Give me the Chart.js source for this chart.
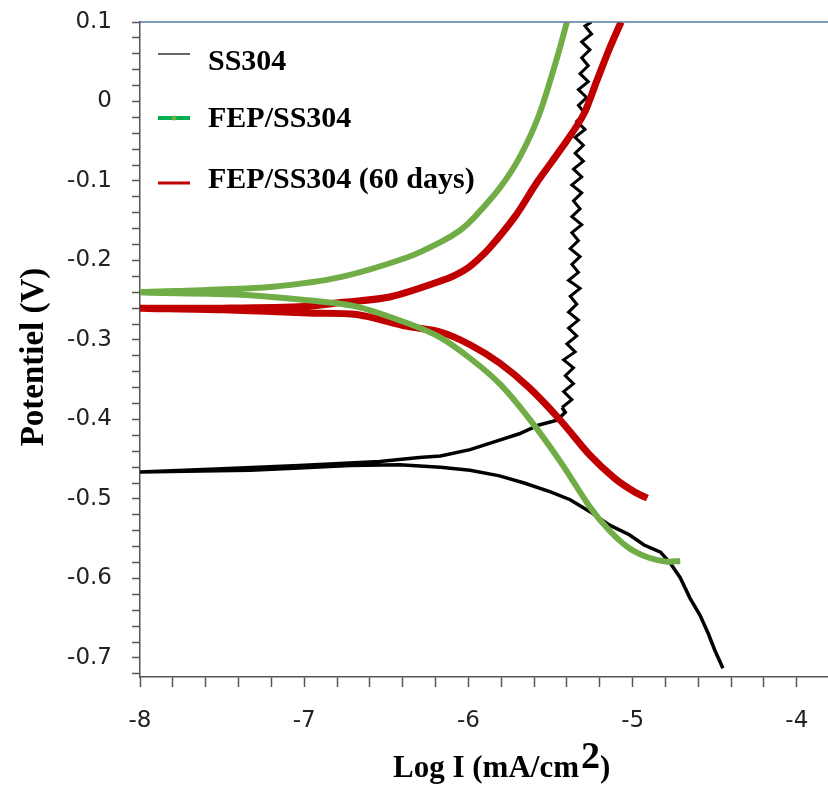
<!DOCTYPE html>
<html>
<head>
<meta charset="utf-8">
<title>Tafel curves</title>
<script src="https://cdn.jsdelivr.net/npm/chart.js@4.4.1/dist/chart.umd.min.js"></script>
<style>
  body { margin: 0; background: #fff; }
  #chart { display: block; }
</style>
</head>
<body>
<canvas id="chart" width="828" height="785"></canvas>
<script>
// SS304 : cathodic branch (from the bottom up to the left), then anodic branch
const ss304LogI = [
  -4.45, -4.50, -4.54, -4.59, -4.65, -4.71, -4.77, -4.83, -4.93, -5.02, -5.14, -5.26,
  -5.38, -5.50, -5.66, -5.81, -5.99, -6.17, -6.42, -6.72, -7.03, -7.33, -7.63, -8.00,
  -7.50, -7.03, -6.54, -6.30, -6.17, -5.99, -5.81, -5.69, -5.57, -5.46, -5.41,
  -5.43, -5.37, -5.42, -5.36, -5.41, -5.36, -5.42, -5.35, -5.40, -5.34, -5.39, -5.33,
  -5.39, -5.34, -5.38, -5.32, -5.39, -5.33, -5.37, -5.32, -5.38, -5.33, -5.37, -5.31,
  -5.37, -5.32, -5.36, -5.31, -5.37, -5.31, -5.36, -5.30, -5.35, -5.30, -5.35, -5.29,
  -5.34, -5.29, -5.33, -5.28, -5.33, -5.27, -5.32, -5.27, -5.31, -5.26, -5.31, -5.25,
  -5.29, -5.25
];
const ss304E = [
  -0.713, -0.690, -0.669, -0.646, -0.625, -0.599, -0.581, -0.567, -0.558, -0.545, -0.533, -0.516,
  -0.501, -0.491, -0.480, -0.471, -0.464, -0.460, -0.457, -0.458, -0.461, -0.464, -0.465, -0.466,
  -0.462, -0.458, -0.453, -0.448, -0.446, -0.438, -0.426, -0.418, -0.407, -0.401, -0.391,
  -0.385, -0.375, -0.365, -0.355, -0.345, -0.335, -0.325, -0.315, -0.305, -0.295, -0.285, -0.275,
  -0.265, -0.255, -0.245, -0.235, -0.225, -0.215, -0.205, -0.195, -0.185, -0.175, -0.165, -0.155,
  -0.145, -0.135, -0.125, -0.115, -0.105, -0.095, -0.085, -0.075, -0.065, -0.055, -0.045, -0.035,
  -0.025, -0.015, -0.005, 0.005, 0.015, 0.025, 0.035, 0.045, 0.055, 0.065, 0.075, 0.085,
  0.095, 0.100
];

// FEP/SS304 : cathodic branch from its right end, then anodic branch
const fepLogI = [
  -4.71, -4.79, -4.90, -5.02, -5.14, -5.26, -5.44, -5.63, -5.81, -5.99, -6.17, -6.37,
  -6.68, -6.98, -7.39, -8.00,
  -7.59, -7.19, -6.78, -6.37, -6.17, -6.05, -5.97, -5.81, -5.69, -5.57, -5.46, -5.40
];
const fepE = [
  -0.578, -0.579, -0.574, -0.562, -0.540, -0.510, -0.453, -0.399, -0.355, -0.323, -0.297, -0.279,
  -0.258, -0.250, -0.243, -0.240,
  -0.237, -0.233, -0.221, -0.196, -0.177, -0.162, -0.147, -0.109, -0.071, -0.017, 0.055, 0.100
];

// FEP/SS304 (60 days)
const fep60LogI = [
  -4.91, -4.99, -5.11, -5.26, -5.44, -5.63, -5.81, -5.99, -6.17, -6.37, -6.68, -6.98,
  -7.50, -8.00,
  -7.50, -7.00, -6.78, -6.48, -6.13, -6.03, -5.97, -5.87, -5.71, -5.58, -5.43, -5.30,
  -5.22, -5.14, -5.07
];
const fep60E = [
  -0.499, -0.491, -0.474, -0.445, -0.401, -0.360, -0.329, -0.306, -0.290, -0.283, -0.268, -0.266,
  -0.262, -0.260,
  -0.260, -0.258, -0.253, -0.246, -0.223, -0.213, -0.204, -0.184, -0.143, -0.101, -0.058, -0.017,
  0.025, 0.067, 0.100
];

const seriesNames = ['SS304', 'FEP/SS304', 'FEP/SS304 (60 days)'];
const xMin = -8, xMax = -3.81;
const yMin = -0.724, yMax = 0.1;

function toPoints(xs, ys) {
  return xs.map(function(x, i) { return {x: x, y: ys[i]}; });
}

const serif = '"Liberation Serif", "Times New Roman", serif';
const axisColor = '#555555';

// legend, axis titles and the top frame line
const decorations = {
  id: 'decorations',
  afterDraw: function(chart) {
    const ctx = chart.ctx;
    const area = chart.chartArea;
    ctx.save();

    ctx.strokeStyle = '#5b7ba4';
    ctx.lineWidth = 1.5;
    ctx.beginPath();
    ctx.moveTo(area.left, area.top);
    ctx.lineTo(area.right, area.top);
    ctx.stroke();

    // legend
    const rows = [
      {y: 54, text: 70, color: '#333333', width: 1.5},
      {y: 118, text: 127, color: '#00b050', width: 4},
      {y: 183, text: 188, color: '#c00000', width: 3}
    ];
    ctx.font = 'bold 30px ' + serif;
    ctx.fillStyle = '#000';
    ctx.textAlign = 'left';
    ctx.textBaseline = 'alphabetic';
    for (var i = 0; i < rows.length; i++) {
      var r = rows[i];
      ctx.strokeStyle = r.color;
      ctx.lineWidth = r.width;
      ctx.beginPath();
      ctx.moveTo(158, r.y);
      ctx.lineTo(190, r.y);
      ctx.stroke();
      if (i == 1) {
        ctx.fillStyle = '#70ad47';
        ctx.beginPath();
        ctx.arc(174, r.y, 2.5, 0, Math.PI * 2);
        ctx.fill();
        ctx.fillStyle = '#000';
      }
      ctx.fillText(seriesNames[i], 208, r.text);
    }

    // y axis title
    ctx.save();
    ctx.translate(43, 357);
    ctx.rotate(-Math.PI / 2);
    ctx.font = 'bold 33px ' + serif;
    ctx.textAlign = 'center';
    ctx.fillText('Potentiel (V)', 0, 0);
    ctx.restore();

    // x axis title with a large superscript
    var x = 393;
    ctx.textAlign = 'left';
    ctx.font = 'bold 31px ' + serif;
    ctx.fillText('Log I (mA/cm', x, 777);
    x += ctx.measureText('Log I (mA/cm').width;
    ctx.font = 'bold 38px ' + serif;
    ctx.fillText('2', x + 2, 768);
    x += ctx.measureText('2').width + 2;
    ctx.font = 'bold 31px ' + serif;
    ctx.fillText(')', x, 777);

    ctx.restore();
  }
};

function main() {
  const canvas = document.getElementById('chart');
  new Chart(canvas, {
    type: 'scatter',
    data: {
      datasets: [
        {
          label: seriesNames[1],
          data: toPoints(fepLogI, fepE),
          showLine: true,
          borderColor: '#70ad47',
          borderWidth: 6,
          tension: 0.3,
          pointRadius: 0,
          order: 1
        },
        {
          label: seriesNames[2],
          data: toPoints(fep60LogI, fep60E),
          showLine: true,
          borderColor: '#c00000',
          borderWidth: 7,
          tension: 0.3,
          pointRadius: 0,
          order: 2
        },
        {
          label: seriesNames[0],
          data: toPoints(ss304LogI, ss304E),
          showLine: true,
          borderColor: '#000000',
          borderWidth: 3,
          tension: 0,
          pointRadius: 0,
          order: 3,
          segment: {
            borderWidth: function(c) {
              return c.p0.parsed.y > -0.39 ? 3 : 3.5;
            }
          }
        }
      ]
    },
    options: {
      responsive: false,
      animation: false,
      devicePixelRatio: 1,
      layout: {padding: {top: 22, right: 0, left: 0, bottom: 0}},
      plugins: {
        legend: {display: false},
        tooltip: {enabled: false}
      },
      scales: {
        x: {
          type: 'linear',
          min: xMin,
          max: xMax,
          afterFit: function(scale) {
            scale.height = 108;
            scale.paddingLeft = 0;
            scale.paddingRight = 0;
          },
          border: {display: true, color: axisColor, width: 1.5},
          grid: {drawOnChartArea: false, drawTicks: true, tickLength: 10, tickColor: axisColor, tickWidth: 1.5},
          ticks: {
            stepSize: 0.2,
            includeBounds: false,
            autoSkip: false,
            maxRotation: 0,
            padding: 20,
            color: '#222',
            font: {family: '"DejaVu Sans", sans-serif', size: 23},
            callback: function(v) {
              if (Math.abs(v - Math.round(v)) < 1e-6) return String(Math.round(v));
              return '';
            }
          }
        },
        y: {
          type: 'linear',
          min: yMin,
          max: yMax,
          afterFit: function(scale) {
            scale.width = 140;
            scale.paddingTop = 0;
            scale.paddingBottom = 0;
          },
          border: {display: true, color: axisColor, width: 1.5},
          grid: {drawOnChartArea: false, drawTicks: true, tickLength: 8, tickColor: axisColor, tickWidth: 1.5},
          ticks: {
            stepSize: 0.02,
            includeBounds: false,
            autoSkip: false,
            padding: 20,
            color: '#222',
            font: {family: '"DejaVu Sans", sans-serif', size: 23},
            callback: function(v) {
              var t = v * 10;
              if (Math.abs(t - Math.round(t)) < 1e-6) {
                var r = Math.round(t);
                return r == 0 ? '0' : (r / 10).toFixed(1);
              }
              return '';
            }
          }
        }
      }
    },
    plugins: [decorations]
  });
}

window.addEventListener('load', main);
</script>
</body>
</html>
